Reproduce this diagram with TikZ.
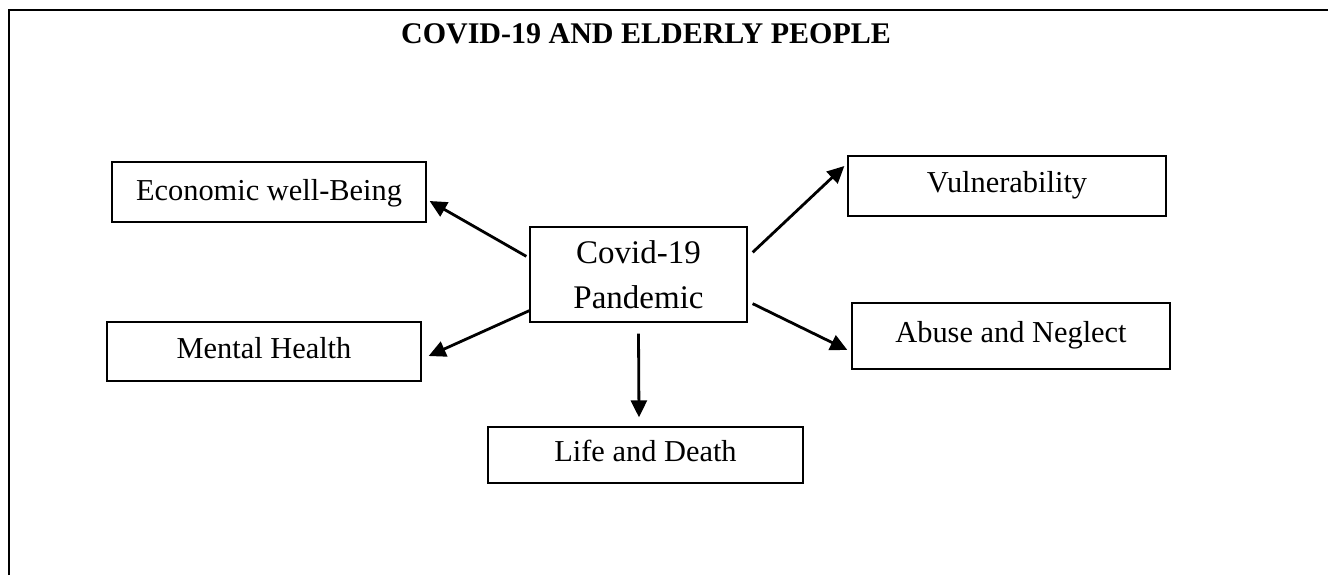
\documentclass[tikz,border=0pt]{standalone}
\usepackage{fontspec}
\setmainfont{Liberation Serif}
\usetikzlibrary{arrows.meta,calc}
\begin{document}
\begin{tikzpicture}[x=0.5pt,y=-0.5pt,
  box/.style={draw,line width=0.65pt,inner sep=0pt,
    font=\fontsize{15.2}{18}\selectfont,text height=0.66em,text depth=0pt},
  arr/.style={line width=1.4pt,-{Triangle[length=8.5pt,width=8pt]}},
  frameline/.style={line width=1.35pt}]
\useasboundingbox (0,0) rectangle (1328,575);
\draw[frameline] (9,575) -- (9,10) -- (1328,10);
\node[anchor=base,font=\fontsize{15}{18}\bfseries] (title) at (646,43) {COVID-19 AND ELDERLY PEOPLE};
\node[box,minimum width=157pt,minimum height=30pt] (eco) at (269,192) {\raisebox{-1pt}{Economic well-Being}};
\node[box,minimum width=159pt,minimum height=30pt] (vul) at (1007,186) {Vulnerability};
\node[draw,line width=0.65pt,inner sep=0pt,align=center,minimum width=108.5pt,minimum height=47.5pt,
  font=\fontsize{16.5}{22.5}\selectfont] (cov) at (638.5,274.5) {\raisebox{-1pt}{Covid-19}\\\raisebox{-1pt}{Pandemic}};
\node[box,minimum width=157pt,minimum height=29.5pt] (men) at (264,351.5) {Mental Health};
\node[box,minimum width=159pt,minimum height=33pt] (abu) at (1011,336) {Abuse and Neglect};
\node[box,minimum width=157.5pt,minimum height=28pt] (lif) at (645.5,455) {Life and Death};
\draw[arr] ($(cov.north west)+(-3,30)$) -- ($(eco.east)+(3,9)$);
\draw[arr] ($(cov.south west)+(0,-12)$) -- ($(men.east)+(7,4.5)$);
\draw[arr] ($(cov.north east)+(5,26)$) -- ($(vul.west)+(-3,-20)$);
\draw[arr] ($(cov.south east)+(5,-19)$) -- ($(abu.west)+(-4,14)$);
\draw[arr] ($(cov.south)+(0,11)$) -- ($(lif.north)+(-6.5,-9)$);
\end{tikzpicture}
\end{document}
